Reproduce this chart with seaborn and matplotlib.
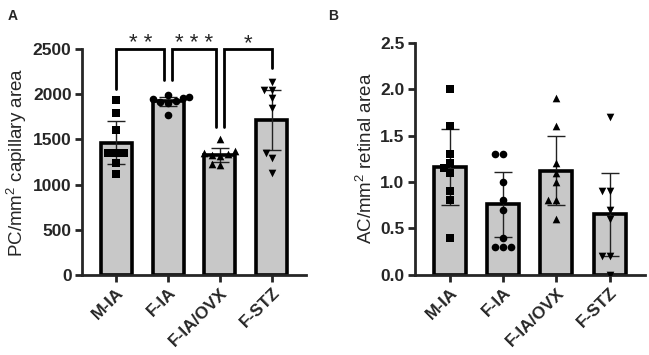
import matplotlib
matplotlib.use("Agg")
import matplotlib.pyplot as plt
import seaborn as sns

groups = ["M-IA", "F-IA", "F-IA/OVX", "F-STZ"]
markers = ["s", "o", "^", "v"]

# A : PC/mm2 capillary area (mean, SD, individual values)
pc_mean = [1465, 1925, 1330, 1715]
pc_sd = [235, 50, 75, 330]
pc_mia = [1935, 1790, 1605, 1355, 1355, 1355, 1240, 1115]
pc_fia = [1995, 1975, 1960, 1945, 1930, 1915, 1900, 1770]
pc_ovx = [1500, 1370, 1350, 1340, 1330, 1320, 1230, 1220]
pc_stz = [2140, 2050, 2050, 1955, 1850, 1345, 1290, 1130]

# B : AC/mm2 retinal area
ac_mean = [1.16, 0.76, 1.12, 0.65]
ac_sd = [0.41, 0.35, 0.37, 0.45]
ac_mia = [2.0, 1.6, 1.3, 1.2, 1.15, 1.1, 0.9, 0.8, 0.4]
ac_fia = [1.3, 1.3, 1.0, 0.8, 0.7, 0.4, 0.3, 0.3, 0.3]
ac_ovx = [1.9, 1.6, 1.2, 1.1, 1.0, 0.8, 0.8, 0.6]
ac_stz = [1.7, 0.9, 0.9, 0.7, 0.6, 0.2, 0.2, 0.0]

# significance brackets in A: (group 1, group 2, label, left leg end, right leg end)
comparisons = [(0, 1, "**", 2060, 2160), (1, 2, "***", 2160, 1640), (2, 3, "*", 1640, 2290)]

sns.set_style("ticks")
plt.rcParams["font.family"] = ["Liberation Sans", "DejaVu Sans"]
plt.rcParams["mathtext.fontset"] = "custom"
plt.rcParams["mathtext.rm"] = "Liberation Sans"
plt.rcParams["mathtext.default"] = "rm"

fig = plt.figure(figsize=(6.49, 3.55), dpi=100)
axA = fig.add_axes([0.1264, 0.2262, 0.345, 0.635])
axB = fig.add_axes([0.6394, 0.2262, 0.354, 0.6535])


def panel(ax, means, sds, points, ylim, yticks, ylabel, fmt):
    sns.barplot(x=groups, y=means, order=groups, color="#c8c8c8", edgecolor="black",
                linewidth=2.6, width=0.6, saturation=1, errorbar=None, ax=ax, zorder=1)
    ax.errorbar(range(len(groups)), means, yerr=sds, fmt="none", ecolor="#222222",
                elinewidth=1.0, capsize=6.5, capthick=1.0, zorder=3)
    for g, vals, m in zip(groups, points, markers):
        sns.swarmplot(x=[g] * len(vals), y=vals, order=groups, marker=m, color="black",
                      size=5.5, ax=ax, zorder=4)
    ax.set_xlim(-0.66, 3.66)
    ax.set_ylim(*ylim)
    ax.set_yticks(yticks)
    ax.set_yticklabels([fmt.format(t) for t in yticks])
    ax.set_xticks(range(len(groups)))
    ax.set_xticklabels(groups, rotation=45, ha="right", rotation_mode="anchor")
    ax.set_xlabel("")
    ax.set_ylabel(ylabel, fontsize=13.5, labelpad=3)
    for lab in ax.get_xticklabels() + ax.get_yticklabels():
        lab.set_fontweight("bold")
        lab.set_fontsize(12.5)
    ax.tick_params(width=2, length=5, pad=2.5)
    for s in ["left", "bottom"]:
        ax.spines[s].set_linewidth(2)
    sns.despine(ax=ax)


panel(axA, pc_mean, pc_sd, [pc_mia, pc_fia, pc_ovx, pc_stz], (0, 2500),
      [0, 500, 1000, 1500, 2000, 2500], r"PC/mm$^{2}$ capillary area", "{:.0f}")
panel(axB, ac_mean, ac_sd, [ac_mia, ac_fia, ac_ovx, ac_stz], (0, 2.5),
      [0, 0.5, 1.0, 1.5, 2.0, 2.5], r"AC/mm$^{2}$ retinal area", "{:.1f}")

off = 0.07
for i, j, stars, y1, y2 in comparisons:
    xl = i + (off if i > 0 else 0)
    xr = j - (off if j < 3 else 0)
    axA.plot([xl, xl, xr, xr], [y1, 2500, 2500, y2], color="black", lw=2, clip_on=False,
             solid_joinstyle="miter", zorder=5)
    axA.text((xl + xr) / 2, 2505, " ".join(stars), ha="center", va="baseline", fontsize=16,
             clip_on=False)

fig.text(0.012, 0.975, "A", fontsize=10, fontweight="bold", va="top")
fig.text(0.505, 0.975, "B", fontsize=10, fontweight="bold", va="top")

fig.savefig("out.png", dpi=100)
